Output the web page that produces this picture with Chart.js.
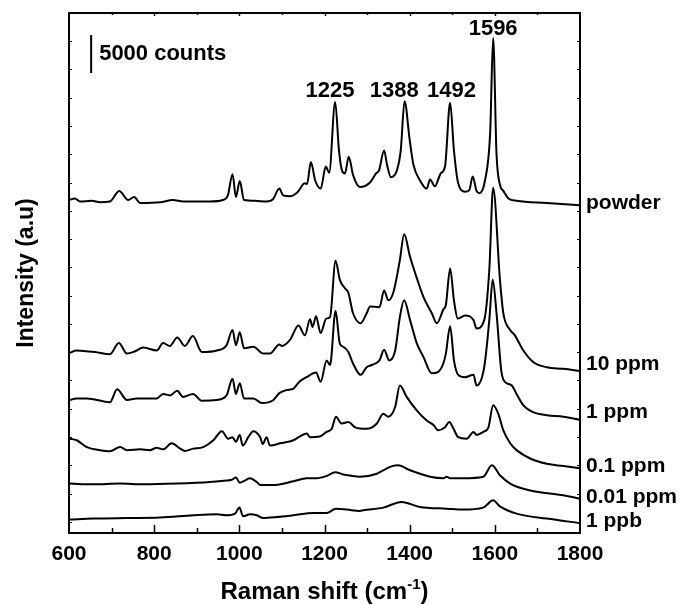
<!DOCTYPE html>
<html>
<head>
<meta charset="utf-8">
<script src="https://cdn.jsdelivr.net/npm/chart.js@4.4.1/dist/chart.umd.min.js"></script>
<style>
  body { margin: 0; background: #fff; }
  canvas { display: block; }
</style>
</head>
<body>
<canvas id="myChart" width="690" height="605"></canvas>
<script>
// 스펙트럼 데이터 (x: Raman shift cm-1, y: 강도, 1 단위 = 1000 counts, 오프셋 포함)
const powderShift = [600,614,626,653,673,696,718,739,753,767,814,844,868,931,961,973,984,992,1001,1011,1037,1064,1079,1094,1103,1119,1136,1154,1159,1168,1178,1191,1203,1211,1225,1234,1241,1248,1257,1267,1283,1307,1321,1328,1340,1347,1356,1370,1379,1388,1400,1409,1424,1440,1448,1459,1473,1483,1495,1504,1514,1530,1540,1548,1557,1564,1577,1589,1596,1604,1612,1620,1632,1651,1722,1800];
const powderCounts = [43.8,44.0,43.6,43.7,43.5,43.6,45.0,43.8,44.2,43.4,43.5,43.8,43.6,43.6,43.8,44.4,47.2,44.2,46.3,43.8,43.7,43.6,43.9,45.3,44.4,44.3,44.8,46.0,45.9,48.8,46.4,45.3,48.2,47.4,56.7,50.3,47.7,47.3,49.5,47.1,45.5,46.1,47.3,47.7,50.3,48.4,46.8,47.7,50.3,56.8,51.7,48.4,46.4,45.3,46.5,45.6,47.3,48.2,56.6,50.3,46.0,44.9,45.1,46.9,45.0,44.7,46.4,52.6,65.1,49.8,45.8,45.0,44.0,43.7,43.4,43.1];

const ppm10Shift = [602,618,642,661,696,717,736,755,774,806,821,837,854,872,891,912,947,970,984,992,1001,1011,1033,1056,1072,1094,1100,1119,1139,1154,1166,1172,1180,1191,1204,1213,1226,1236,1248,1256,1267,1285,1299,1307,1329,1340,1350,1362,1377,1387,1401,1417,1432,1452,1464,1479,1485,1495,1504,1513,1530,1550,1557,1575,1587,1596,1612,1620,1636,1647,1667,1690,1722,1761,1800];
const ppm10Counts = [23.7,24.0,23.9,23.8,23.5,25.0,23.6,23.9,24.4,24.0,25.0,24.6,25.7,24.6,25.9,23.8,24.0,24.7,26.7,24.7,26.4,24.3,24.5,23.6,23.6,24.8,24.6,25.4,27.3,26.0,28.1,27.1,28.5,26.3,28.2,28.4,35.8,33.3,32.2,31.6,28.9,27.6,28.9,29.8,29.7,31.9,30.6,31.7,35.9,39.3,36.3,33.5,31.1,28.9,27.6,29.4,30.0,34.8,30.6,28.2,28.6,28.0,26.9,28.0,34.6,45.4,33.3,28.9,26.7,26.0,24.0,22.5,21.8,21.6,21.3];

const ppm1Shift = [602,618,642,696,713,736,759,806,821,837,854,868,891,912,947,970,984,992,1001,1011,1033,1053,1080,1094,1111,1127,1141,1158,1180,1191,1205,1213,1226,1236,1244,1256,1267,1285,1299,1311,1329,1340,1352,1366,1377,1387,1401,1417,1432,1452,1467,1479,1485,1495,1504,1514,1530,1550,1557,1575,1587,1595,1604,1616,1628,1640,1651,1667,1690,1722,1761,1800];
const ppm1Counts = [17.5,17.7,17.7,17.2,18.9,17.5,17.7,17.7,18.3,18.1,18.7,17.9,18.3,17.4,17.5,18.1,20.3,18.3,19.7,17.7,17.7,17.1,17.5,18.4,18.8,19.0,19.9,20.5,21.1,19.9,22.7,22.1,29.2,24.9,24.5,23.8,22.3,20.8,21.8,22.1,22.7,24.1,22.7,24.0,28.4,30.6,28.0,24.9,23.2,21.0,21.2,22.3,23.6,27.2,22.7,20.8,20.5,20.8,19.4,21.8,28.0,33.3,28.9,21.0,19.7,19.4,18.3,16.8,15.9,15.5,15.3,14.9];

const ppm01Shift = [602,618,642,673,696,720,736,767,790,806,821,841,861,872,892,915,939,959,974,984,992,1001,1008,1021,1033,1049,1055,1064,1072,1096,1127,1142,1158,1166,1189,1205,1217,1227,1240,1256,1272,1299,1323,1338,1350,1366,1377,1393,1417,1440,1456,1467,1483,1493,1503,1514,1534,1550,1557,1573,1585,1596,1608,1620,1636,1651,1683,1722,1761,1800];
const ppm01Counts = [12.4,12.2,11.3,10.9,10.75,11.3,10.9,11.0,10.9,11.2,11.0,11.8,11.1,10.8,11.1,11.3,12.2,13.4,12.4,12.6,12.0,12.9,11.5,12.6,13.4,12.6,11.7,12.6,11.5,11.8,12.2,12.7,13.1,12.6,12.7,13.3,13.7,15.3,14.4,14.6,13.9,13.7,14.4,15.7,15.3,16.6,19.4,17.9,16.1,14.8,14.2,13.5,13.9,14.6,13.7,12.6,12.4,13.3,12.9,13.3,13.9,16.8,15.7,13.5,11.8,10.9,9.8,9.1,8.8,8.5];

const ppm001Shift = [602,657,720,774,853,931,970,982,992,1001,1013,1025,1041,1049,1080,1127,1158,1182,1205,1225,1244,1260,1283,1323,1338,1359,1373,1401,1448,1479,1487,1495,1526,1573,1593,1612,1636,1683,1761,1800];
const ppm001Counts = [6.5,6.4,6.5,6.4,6.5,6.7,6.9,7.0,7.3,6.6,6.9,7.2,6.7,6.3,6.3,6.8,7.2,7.2,7.5,8.0,7.7,7.55,7.4,7.8,8.25,8.8,8.9,8.25,7.4,7.2,7.4,7.2,7.2,7.4,8.9,7.6,6.5,5.6,4.96,4.5];

const ppbShift = [602,657,736,814,892,947,970,990,1000,1009,1025,1041,1056,1088,1127,1174,1205,1227,1253,1283,1291,1338,1381,1424,1487,1526,1573,1596,1612,1651,1722,1800];
const ppbCounts = [1.76,1.9,1.97,2.03,2.33,2.46,2.33,2.55,3.34,2.2,2.46,2.33,1.97,2.1,2.33,2.63,2.63,3.2,3.08,2.9,2.99,3.34,4.08,3.42,3.2,3.08,3.34,4.3,3.5,2.55,1.9,1.3];

// 곡선 이름과 오른쪽 라벨 높이
const sampleNames = ['powder', '10 ppm', '1 ppm', '0.1 ppm', '0.01 ppm', '1 ppb'];
const sampleLabelLevel = [42.6, 21.4, 15.1, 8.0, 4.0, 0.75];

// 피크 라벨
const peakLabels = ['1225', '1388', '1492', '1596'];
const peakLabelX = [1213, 1364, 1498, 1596];
const peakLabelY = [57.3, 57.3, 57.3, 65.5];

// 축 범위와 눈금
const shiftMin = 600, shiftMax = 1800, shiftStep = 200;
const countsMin = 0, countsMax = 68.4;
const scaleBarX = 652, scaleBarBottom = 60.5, scaleBarSize = 5;

const allShift = [powderShift, ppm10Shift, ppm1Shift, ppm01Shift, ppm001Shift, ppbShift];
const allCounts = [powderCounts, ppm10Counts, ppm1Counts, ppm01Counts, ppm001Counts, ppbCounts];

const FONT = '"Liberation Sans", Arial, Helvetica, sans-serif';

// 테두리, 안쪽 눈금, 텍스트 그리기
const decorPlugin = {
    id: 'decor',
    afterDraw(chart) {
        const c = chart.ctx;
        const a = chart.chartArea;
        const xs = chart.scales.x;
        const ys = chart.scales.y;
        c.save();
        c.strokeStyle = '#000';
        c.fillStyle = '#000';

        // 프레임
        c.lineWidth = 2;
        c.strokeRect(a.left, a.top, a.right - a.left, a.bottom - a.top);

        // x 눈금 (안쪽)
        c.lineWidth = 1.5;
        for (let v = shiftMin + 100; v < shiftMax; v += 100) {
            const px = Math.round(xs.getPixelForValue(v)) + 0.5;
            const major = v % 200 === 0;
            c.beginPath();
            c.moveTo(px, a.bottom);
            c.lineTo(px, a.bottom - (major ? 8 : 5));
            c.moveTo(px, a.top);
            c.lineTo(px, a.top + (major ? 3 : 2));
            c.stroke();
        }
        // y 눈금 (안쪽, 작게)
        c.lineWidth = 1;
        for (let v = 64.7; v > 0; v -= 3.72) {
            const py = Math.round(ys.getPixelForValue(v)) + 0.5;
            c.beginPath();
            c.moveTo(a.left, py);
            c.lineTo(a.left + 3, py);
            c.moveTo(a.right, py);
            c.lineTo(a.right - 3, py);
            c.stroke();
        }

        // 스케일 바
        c.lineWidth = 2;
        const bx = xs.getPixelForValue(scaleBarX);
        c.beginPath();
        c.moveTo(bx, ys.getPixelForValue(scaleBarBottom));
        c.lineTo(bx, ys.getPixelForValue(scaleBarBottom + scaleBarSize));
        c.stroke();
        c.font = 'bold 22px ' + FONT;
        c.textAlign = 'left';
        c.textBaseline = 'middle';
        c.fillText('5000 counts', bx + 8, ys.getPixelForValue(scaleBarBottom + scaleBarSize / 2));

        // 피크 라벨
        c.font = 'bold 22px ' + FONT;
        c.textAlign = 'center';
        c.textBaseline = 'alphabetic';
        peakLabels.forEach((t, i) => {
            c.fillText(t, xs.getPixelForValue(peakLabelX[i]), ys.getPixelForValue(peakLabelY[i]));
        });

        // 샘플 라벨
        c.font = 'bold 21px ' + FONT;
        c.textAlign = 'left';
        sampleNames.forEach((t, i) => {
            c.fillText(t, a.right + 6, ys.getPixelForValue(sampleLabelLevel[i]));
        });

        // x축 제목 (위첨자 포함)
        const main = 'Raman shift (cm';
        const sup = '-1';
        const end = ')';
        c.font = 'bold 24px ' + FONT;
        const w1 = c.measureText(main).width;
        const w3 = c.measureText(end).width;
        c.font = 'bold 15px ' + FONT;
        const w2 = c.measureText(sup).width;
        let tx = (a.left + a.right) / 2 - (w1 + w2 + w3) / 2;
        const ty = 599;
        c.textAlign = 'left';
        c.font = 'bold 24px ' + FONT;
        c.fillText(main, tx, ty);
        c.font = 'bold 15px ' + FONT;
        c.fillText(sup, tx + w1, ty - 10);
        c.font = 'bold 24px ' + FONT;
        c.fillText(end, tx + w1 + w2, ty);

        // y축 제목
        c.translate(27, (a.top + a.bottom) / 2);
        c.rotate(-Math.PI / 2);
        c.font = 'bold 23px ' + FONT;
        c.textAlign = 'center';
        c.textBaseline = 'middle';
        c.fillText('Intensity (a.u)', 0, 0);
        c.restore();
    }
};

const ctx = document.getElementById('myChart').getContext('2d');
const myChart = new Chart(ctx, {
    type: 'line',
    data: {
        datasets: sampleNames.map((name, i) => ({
            label: name,
            data: allShift[i].map((x, j) => ({ x: x, y: allCounts[i][j] })),
            borderColor: '#000',
            borderWidth: 2,
            pointRadius: 0,
            fill: false,
            cubicInterpolationMode: 'monotone'
        }))
    },
    options: {
        responsive: false,
        animation: false,
        layout: { padding: { left: 69, right: 110, top: 13, bottom: 0 } },
        scales: {
            x: {
                type: 'linear',
                min: shiftMin,
                max: shiftMax,
                afterFit: (scale) => { scale.height = 72; },
                ticks: {
                    stepSize: shiftStep,
                    color: '#000',
                    padding: 9,
                    font: { family: FONT, size: 21, weight: 'bold' },
                    callback: (value) => String(value)
                },
                grid: { display: false, drawTicks: false },
                border: { display: false }
            },
            y: {
                min: countsMin,
                max: countsMax,
                display: false
            }
        },
        plugins: {
            legend: { display: false },
            tooltip: { enabled: false }
        }
    },
    plugins: [decorPlugin]
});
</script>
</body>
</html>
